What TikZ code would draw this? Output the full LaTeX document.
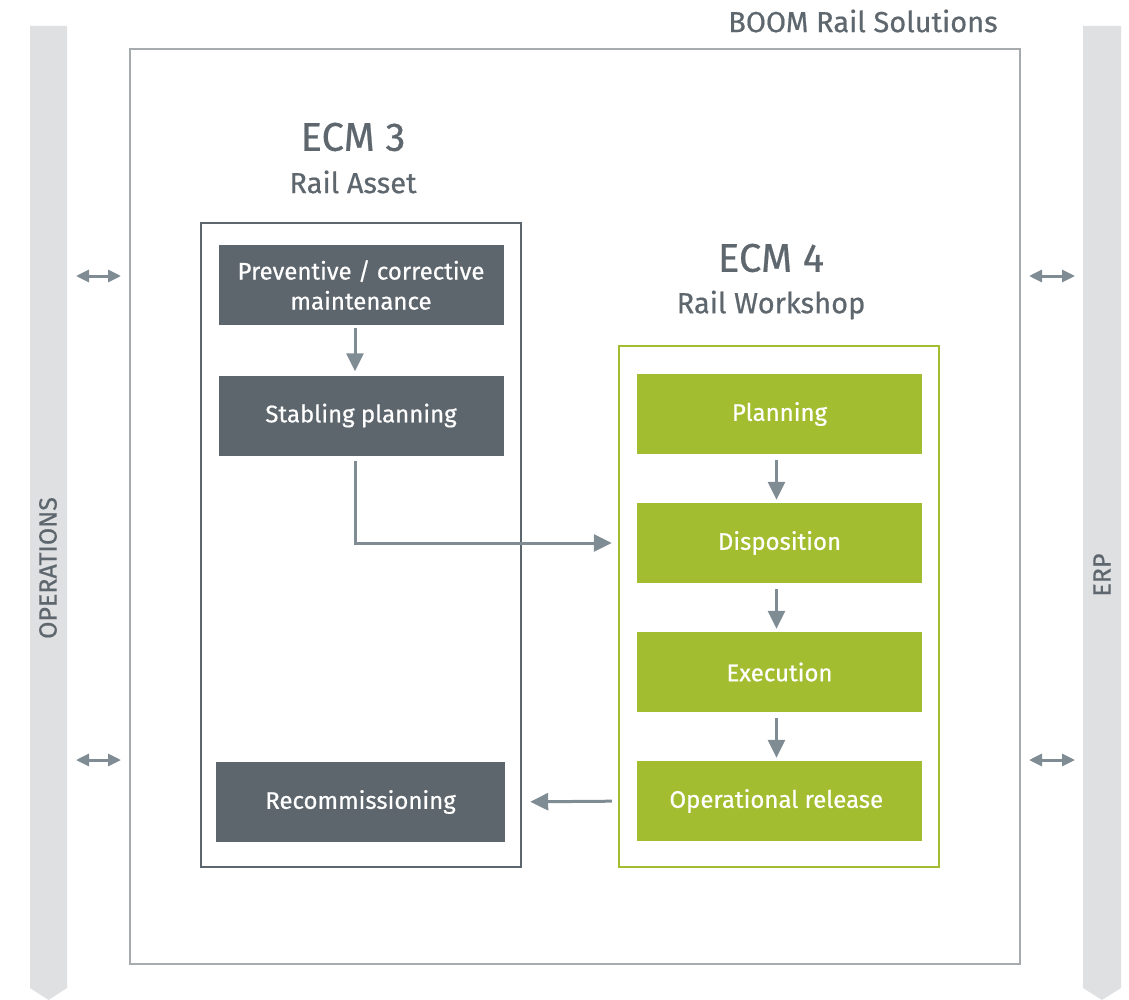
\documentclass[tikz,border=0pt]{standalone}
\usepackage{fontspec}
\setmainfont{Fira Sans}[FakeBold=0.6]
\usepackage{xcolor}
\usetikzlibrary{arrows.meta}
\usetikzlibrary{positioning}

\definecolor{ecmdark}{HTML}{5E666D}
\definecolor{ecmgreen}{HTML}{A3BD31}
\definecolor{arrowgray}{HTML}{7F8C94}
\definecolor{framegray}{HTML}{A6ABAE}
\definecolor{bargray}{HTML}{DFE0E2}
\definecolor{textgray}{HTML}{5F676E}

\tikzset{
	darkbox/.style={fill=ecmdark, text=white, minimum width=285pt, minimum height=80pt,
		inner sep=0pt, align=center, font=\fontsize{24}{30}\selectfont},
	greenbox/.style={darkbox, fill=ecmgreen},
	flow/.style={draw=arrowgray, line width=3pt, -{Triangle[length=18pt,width=17pt]}},
	link/.style={draw=arrowgray, line width=3pt, {Triangle[length=13pt,width=12pt]}-{Triangle[length=13pt,width=12pt]}},
	title/.style={text=textgray, font=\fontsize{40}{44}\selectfont},
	subtitle/.style={text=textgray, font=\fontsize{29}{32}\selectfont},
	barlabel/.style={text=textgray, rotate=90, font=\fontsize{25}{28}\selectfont},
}

\begin{document}
\begin{tikzpicture}[x=1pt,y=-1pt]
	\useasboundingbox (0,0) rectangle (1129,1000);
	% side bars
	\foreach \xl/\xr in {30/67,1083/1121}{
		\fill[bargray] (\xl,26) -- (\xr,26) -- (\xr,988) -- ({(\xl+\xr)/2},1000) -- (\xl,988) -- cycle;
	}
	\node[barlabel] (ops) at (48,568) {OPERATIONS};
	\node[barlabel] (erp) at (1102,575) {ERP};
	% frames
	\draw[framegray, line width=2.5pt] (130,49) rectangle (1020,964);
	\draw[ecmdark, line width=2pt] (201,223) rectangle (521,867);
	\draw[ecmgreen, line width=2pt] (619,346) rectangle (939,867);
	\node[subtitle] (boom) at (863,21) {BOOM Rail Solutions};
	\node[title] (ecm3) at (353,137) {ECM 3};
	\node[subtitle] (asset) at (353,182) {Rail Asset};
	\node[title] (ecm4) at (771,258) {ECM 4};
	\node[subtitle] (shop) at (771,305) {Rail Workshop};
	% rail asset steps
	\node[darkbox] (prev) at (361,285) {Preventive / corrective\\maintenance};
	\node[darkbox] (stab) at (361,415.5) {Stabling planning};
	\node[darkbox, minimum width=289pt] (recomm) at (360.5,802) {Recommissioning};
	% rail workshop steps
	\foreach \y/\name/\txt in {
			414/plan/Planning,
			543/disp/Disposition,
			672/exec/Execution,
			801/rel/Operational release
	}{
		\node[greenbox] (\name) at (779.5,\y) {\txt};
	}
	% flows
	\draw[flow, shorten <=3pt, shorten >=4pt] ([xshift=-6pt]prev.south) -- ([xshift=-6pt]stab.north);
	\foreach \a/\b in {plan/disp,disp/exec,exec/rel}{
		\draw[flow, shorten <=6pt, shorten >=3pt] ([xshift=-3pt]\a.south) -- ([xshift=-3pt]\b.north);
	}
	\draw[flow, shorten <=5pt, shorten >=25pt] ([xshift=-6pt]stab.south) |- (disp.west);
	\draw[flow, shorten <=25pt, shorten >=25pt] (rel.west) -- (recomm.east);
	% interfaces
	\foreach \y in {276,760}{
		\coordinate (opsa\y) at (76,\y);
		\coordinate (opsb\y) at (121,\y);
		\coordinate (erpa\y) at (1029,\y);
		\coordinate (erpb\y) at (1075,\y);
		\draw[link] (opsa\y) -- (opsb\y);
		\draw[link] (erpa\y) -- (erpb\y);
	}
\end{tikzpicture}
\end{document}
